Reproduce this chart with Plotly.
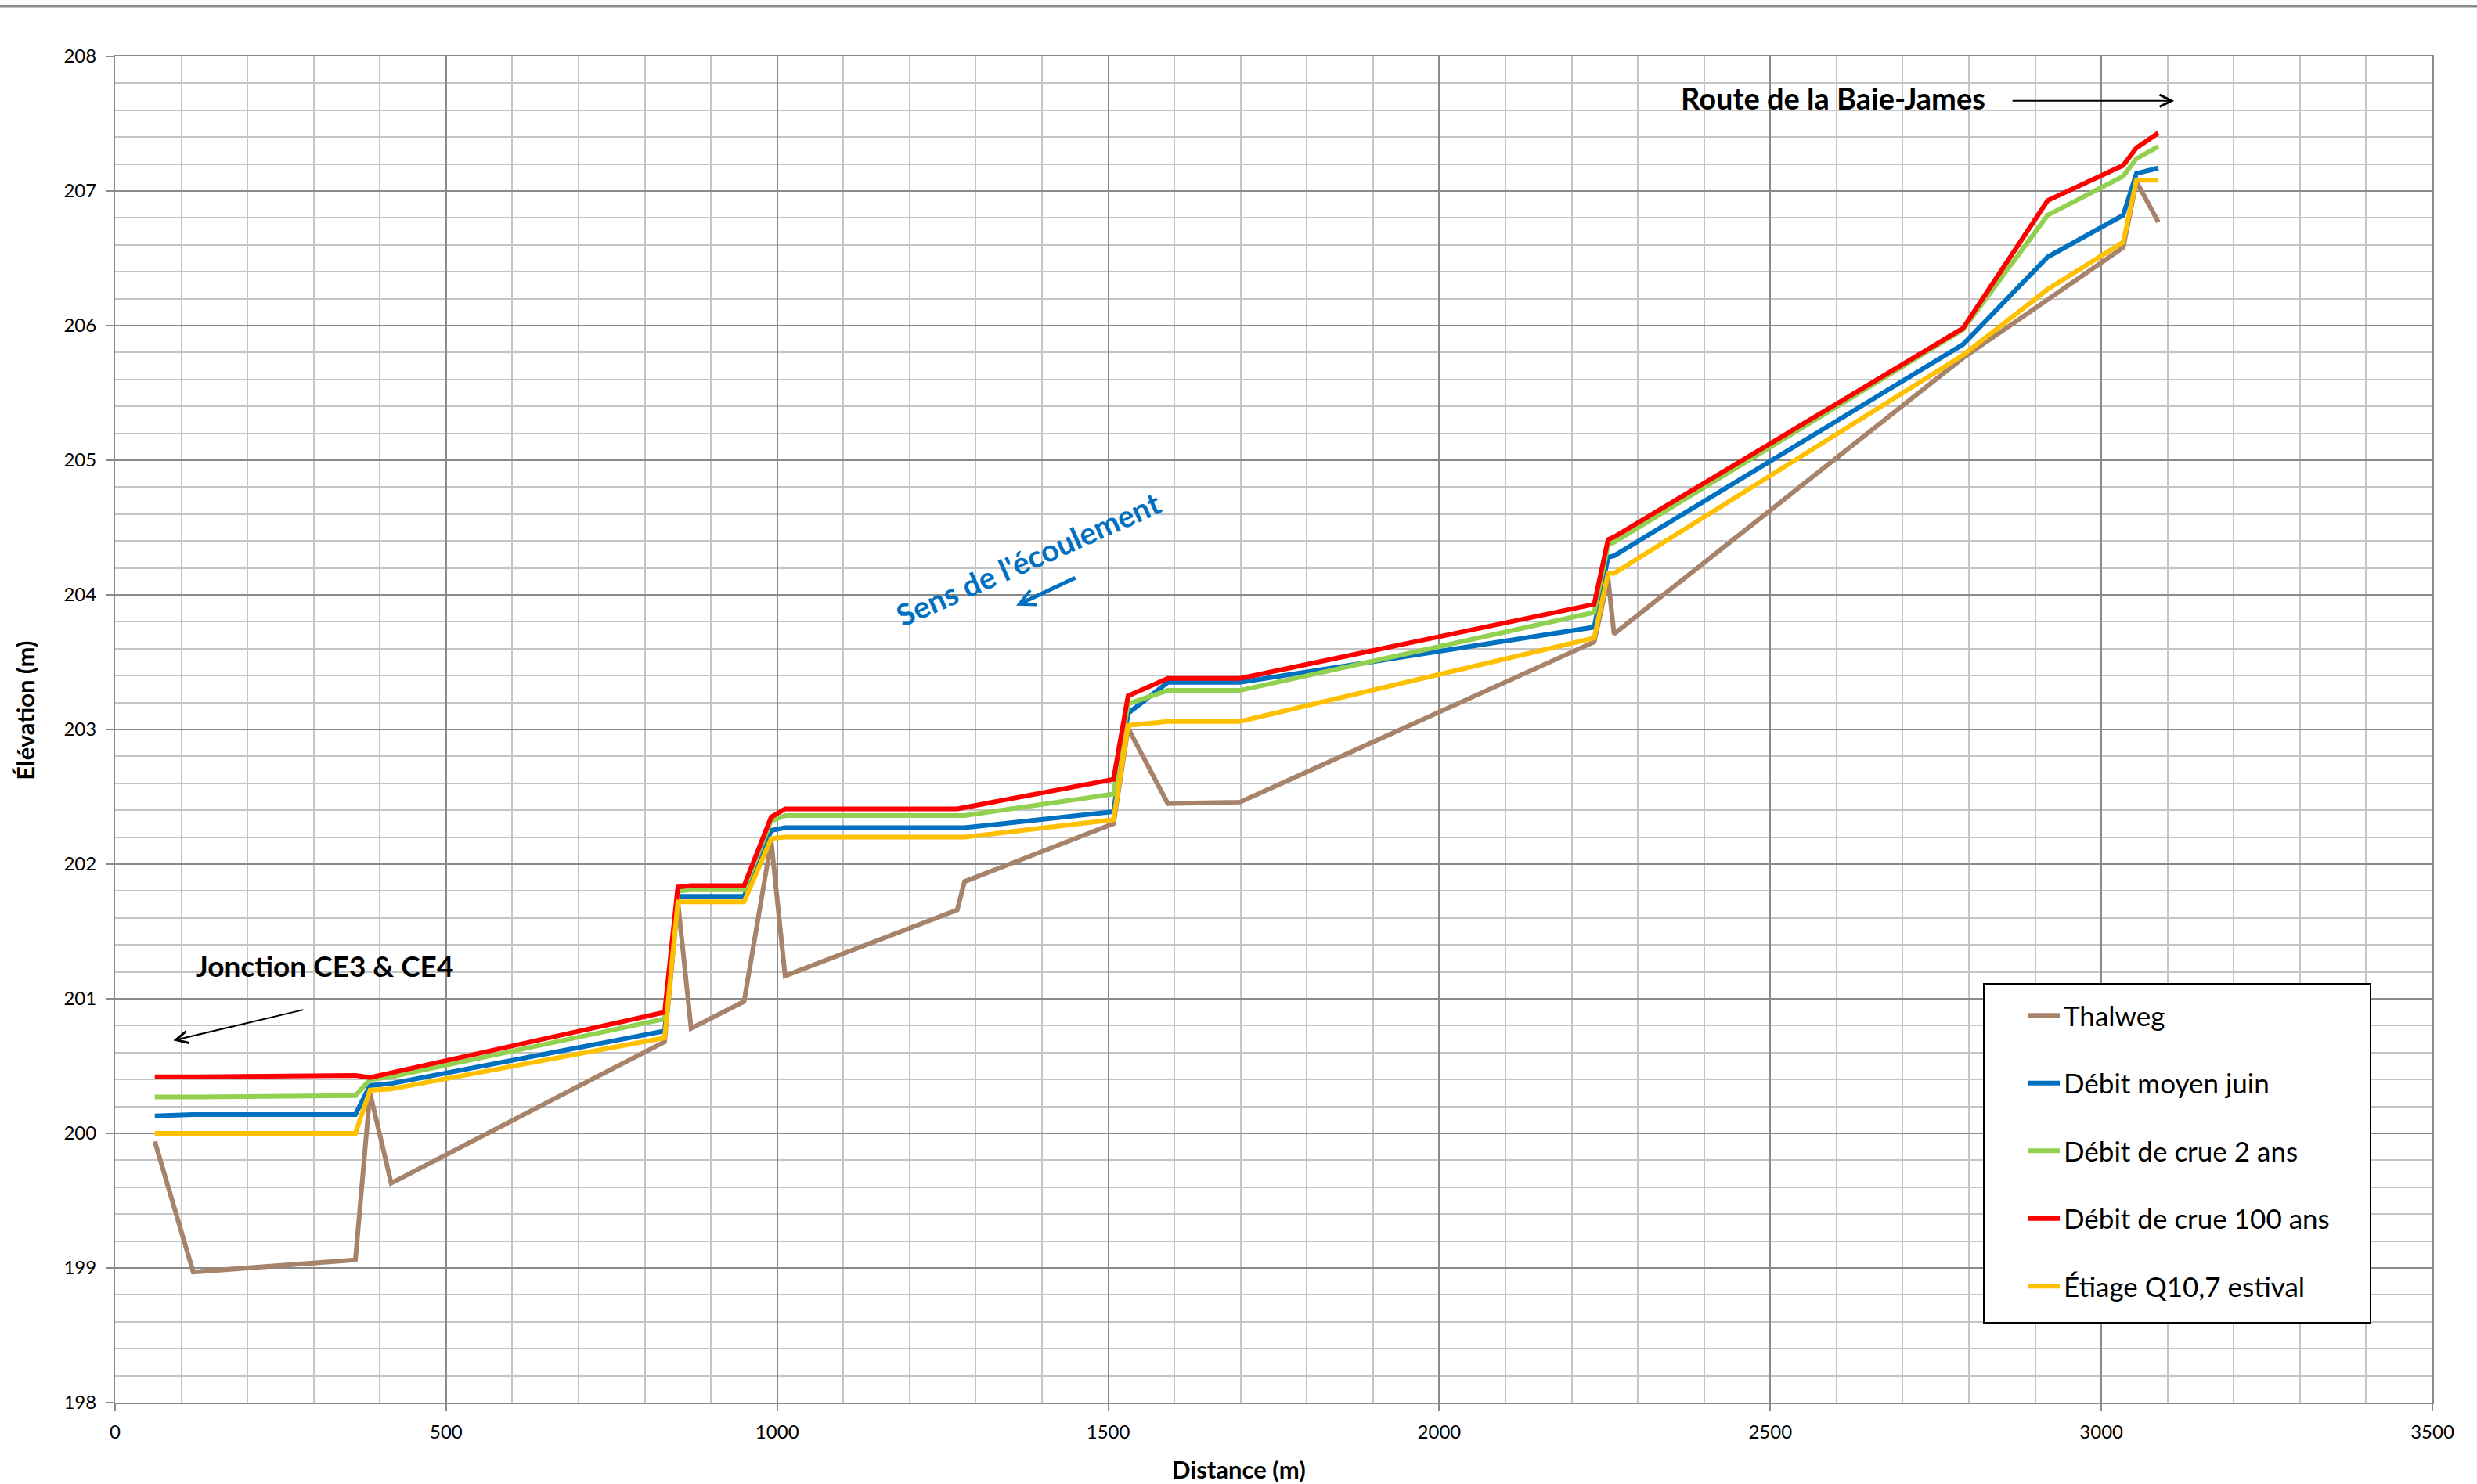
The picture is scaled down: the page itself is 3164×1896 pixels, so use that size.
import plotly.graph_objects as go

# Longitudinal profile stations (m) and elevations (m)
distance = [60, 118, 363, 385, 417, 830, 850, 870, 950, 991, 1012, 1272, 1283,
            1508, 1530, 1590, 1699, 2234, 2255, 2264, 2791, 2919, 3033, 3053, 3086]

thalweg = [199.94, 198.97, 199.06, 200.30, 199.63, 200.68, 201.72, 200.78, 200.98,
           202.17, 201.17, 201.66, 201.87, 202.30, 203.01, 202.45, 202.46, 203.65,
           204.12, 203.71, 205.76, 206.19, 206.58, 207.07, 206.77]

debit_moyen_juin = [200.13, 200.14, 200.14, 200.355, 200.37, 200.76, 201.76, 201.76,
                    201.76, 202.25, 202.27, 202.27, 202.27, 202.39, 203.12, 203.35,
                    203.35, 203.76, 204.28, 204.29, 205.86, 206.51, 206.82, 207.13, 207.17]

crue_2_ans = [200.27, 200.27, 200.28, 200.40, 200.42, 200.85, 201.80, 201.81, 201.81,
              202.32, 202.36, 202.36, 202.36, 202.52, 203.19, 203.29, 203.29, 203.87,
              204.37, 204.39, 205.97, 206.82, 207.11, 207.24, 207.33]

crue_100_ans = [200.42, 200.42, 200.43, 200.415, 200.45, 200.90, 201.83, 201.84, 201.84,
                202.35, 202.41, 202.41, 202.42, 202.63, 203.25, 203.38, 203.38, 203.93,
                204.41, 204.43, 205.98, 206.93, 207.19, 207.32, 207.43]

etiage_q10_7 = [200.00, 200.00, 200.00, 200.32, 200.33, 200.71, 201.72, 201.72, 201.72,
                202.19, 202.20, 202.20, 202.20, 202.33, 203.03, 203.06, 203.06, 203.68,
                204.16, 204.16, 205.78, 206.27, 206.62, 207.08, 207.08]

series = [
    ("Thalweg", thalweg, "#A6836A"),
    ("Débit moyen juin", debit_moyen_juin, "#0070C0"),
    ("Débit de crue 2 ans", crue_2_ans, "#92D050"),
    ("Débit de crue 100 ans", crue_100_ans, "#FF0000"),
    ("Étiage Q10,7 estival", etiage_q10_7, "#FFC000"),
]

FONT = "Lato"
MAJOR = "#8a8a8a"
MINOR = "#c4c4c4"

fig = go.Figure()
for i, (name, values, color) in enumerate(series):
    fig.add_trace(go.Scatter(
        x=distance, y=values, name=name, mode="lines",
        line=dict(color=color, width=6), legendgroup=f"g{i}",
    ))

axis_common = dict(
    showgrid=True, gridcolor=MAJOR, gridwidth=2,
    showline=True, linecolor=MAJOR, linewidth=2, mirror=True,
    ticks="outside", ticklen=9, tickcolor=MAJOR, tickwidth=2,
    zeroline=False,
    tickfont=dict(family=FONT, size=24, color="#000000"),
)

fig.update_xaxes(
    range=[0, 3500], dtick=500, tick0=0,
    minor=dict(dtick=100, showgrid=True, gridcolor=MINOR, gridwidth=2),
    ticklabelstandoff=6,
    **axis_common,
)
fig.update_yaxes(
    range=[198, 208], dtick=1, tick0=198,
    minor=dict(dtick=0.2, showgrid=True, gridcolor=MINOR, gridwidth=2),
    ticklabelstandoff=8,
    **axis_common,
)

annotations = [
    # axis titles
    dict(x=0.4848, y=-0.0494, xref="paper", yref="paper", text="<b>Distance (m)</b>",
         showarrow=False, xanchor="center", yanchor="middle",
         font=dict(family=FONT, size=31, color="#000")),
    dict(x=-0.0389, y=0.514, xref="paper", yref="paper", text="<b>Élévation (m)</b>",
         showarrow=False, textangle=-90, xanchor="center", yanchor="middle",
         font=dict(family=FONT, size=31, color="#000")),
    # landmarks
    dict(x=2363, y=207.69, xref="x", yref="y", text="<b>Route de la Baie-James</b>",
         showarrow=False, xanchor="left", yanchor="middle",
         font=dict(family=FONT, size=38, color="#000")),
    dict(x=119, y=201.25, xref="x", yref="y", text="<b>Jonction CE3 & CE4</b>",
         showarrow=False, xanchor="left", yanchor="middle",
         font=dict(family=FONT, size=37, color="#000")),
    dict(x=1379, y=204.27, xref="x", yref="y", text="<b>Sens de l'écoulement</b>",
         showarrow=False, textangle=-24, xanchor="center", yanchor="middle",
         font=dict(family=FONT, size=39, color="#0070C0")),
    # direction arrows
    dict(x=3110, y=207.67, ax=2864, ay=207.67, xref="x", yref="y", axref="x", ayref="y",
         text="", showarrow=True, arrowhead=5, arrowsize=1.5, arrowwidth=2,
         arrowcolor="#000"),
    dict(x=88, y=200.69, ax=286, ay=200.92, xref="x", yref="y", axref="x", ayref="y",
         text="", showarrow=True, arrowhead=5, arrowsize=1.5, arrowwidth=2,
         arrowcolor="#000"),
    dict(x=1361, y=203.92, ax=1452, ay=204.13, xref="x", yref="y", axref="x", ayref="y",
         text="", showarrow=True, arrowhead=5, arrowsize=0.8, arrowwidth=5,
         arrowcolor="#0070C0"),
]

# legend frame (paper coordinates of the plot area)
box_x0 = (2534 - 147) / 2960
box_x1 = (3028 - 147) / 2960
box_y1 = (1792 - 1257) / 1720
box_y0 = (1792 - 1690) / 1720

fig.update_layout(
    width=3164, height=1896,
    margin=dict(l=147, r=57, t=72, b=104),
    paper_bgcolor="#ffffff", plot_bgcolor="#ffffff",
    font=dict(family=FONT, color="#000"),
    annotations=annotations,
    legend=dict(
        x=(2586 - 147) / 2960, y=0.3047, xanchor="left", yanchor="top",
        bgcolor="rgba(0,0,0,0)", borderwidth=0,
        font=dict(family=FONT, size=35, color="#000"),
        tracegroupgap=38, itemwidth=40,
    ),
    shapes=[
        dict(type="line", xref="paper", yref="paper",
             x0=-0.06, x1=1.03, y0=1.0372, y1=1.0372,
             line=dict(color="#8c8c8c", width=3)),
        dict(type="rect", xref="paper", yref="paper", layer="above",
             x0=box_x0, x1=box_x1, y0=box_y0, y1=box_y1,
             fillcolor="#ffffff", line=dict(color="#000000", width=2)),
    ],
)

fig.write_html("out.html")
